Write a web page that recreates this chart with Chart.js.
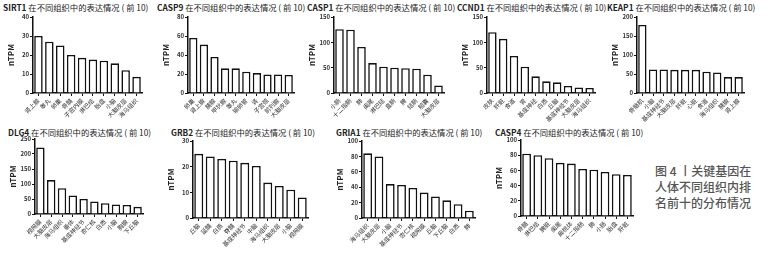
<!DOCTYPE html>
<html lang="zh">
<head>
<meta charset="UTF-8">
<title>关键基因在人体不同组织内排名前十的分布情况</title>
<style>
  body { margin: 0; width: 772px; height: 256px; position: relative; overflow: hidden; background: #fff;
         font-family: "Noto Sans CJK SC", sans-serif; }
  canvas { position: absolute; }
  .title { position: absolute; font-size: 8.3px; color: #222; white-space: nowrap; line-height: 10px; }
  .title b { font-weight: 600; }
  .caption { position: absolute; left: 655px; top: 163px; font-size: 12px; line-height: 16px; color: #555; font-weight: 500; }
</style>
<script src="https://cdn.jsdelivr.net/npm/chart.js"></script>
</head>
<body>
<div class="caption">图 4 丨关键基因在<br>人体不同组织内排<br>名前十的分布情况</div>
<script>
  // Data (nTPM, top 10 tissues for each gene)
  const sirt1Labels = ['肾上腺', '睾丸', '卵巢', '骨髓', '子宫内膜', '淋巴结', '胎盘', '小脑', '大脑皮层', '海马组织'];
  const sirt1Values = [30, 27, 25, 20, 18.5, 17.6, 17, 15.6, 12, 8.5];

  const casp9Labels = ['卵巢', '肾上腺', '胰腺', '甲状腺', '睾丸', '输卵管', '肾', '子宫颈', '前列腺', '大脑皮层'];
  const casp9Values = [58, 51, 38, 26, 26, 22.5, 21, 19.5, 19.5, 19];

  const casp1Labels = ['小肠', '十二指肠', '肺', '阑尾', '淋巴结', '直肠', '脾', '结肠', '胆囊', '大脑皮层'];
  const casp1Values = [126, 125, 91, 59, 52, 50, 49, 48, 36, 15];

  const ccnd1Labels = ['皮肤', '肝脏', '食道', '胃', '基底神经', '白质', '丘脑', '基底神经节', '大脑皮层', '海马组织'];
  const ccnd1Values = [120, 107, 73, 52, 33, 23, 21, 14, 11, 10];

  const keap1Labels = ['骨骼肌', '小脑', '基底神经节', '大脑皮层', '肝脏', '心脏', '食道', '海马组织', '胰腺', '肾上腺'];
  const keap1Values = [179, 62, 62, 61, 61, 61, 56, 54, 42, 42];

  const dlg4Labels = ['视网膜', '大脑皮层', '海马组织', '垂体', '基底神经节', '杏仁核', '白质', '小脑', '胸腺', '下丘脑'];
  const dlg4Values = [222, 113, 86, 62, 50, 42, 36, 32, 30, 24];

  const grb2Labels = ['丘脑', '延髓', '白质', '脊髓', '基底神经节', '中脑', '海马组织', '大脑皮层', '小脑', '视网膜'];
  const grb2Values = [25, 24, 23, 22.3, 21.5, 20.3, 13.8, 12.5, 11, 8];

  const gria1Labels = ['海马组织', '大脑皮层', '小脑', '基底神经节', '杏仁核', '视网膜', '丘脑', '下丘脑', '白质', '肺'];
  const gria1Values = [84, 80, 44, 43, 39, 33, 28, 23, 18, 9.5];

  const casp4Labels = ['骨髓', '淋巴结', '脾脏', '阑尾', '扁桃体', '十二指肠', '肺', '小肠', '胎盘', '肝脏'];
  const casp4Values = [82, 80, 76, 70, 69, 62, 61, 58, 55, 54];

  const FONT = '"Noto Sans CJK SC", sans-serif';

  function panel(o) {
    const yW = 30, xH = 32, padTop = 6, padRight = 4;
    const t = document.createElement('div');
    t.className = 'title';
    t.innerHTML = '<b>' + o.gene + '</b> 在不同组织中的表达情况 ( 前 10)';
    t.style.left = o.titleX + 'px';
    t.style.top = o.titleY + 'px';
    document.body.appendChild(t);

    const c = document.createElement('canvas');
    c.width = o.right - o.axisX + yW + padRight;
    c.height = o.zeroY - o.topY + padTop + xH;
    c.style.left = (o.axisX - yW) + 'px';
    c.style.top = (o.topY - padTop) + 'px';
    document.body.appendChild(c);

    new Chart(c, {
      type: 'bar',
      data: {
        labels: o.labels,
        datasets: [{ data: o.values, backgroundColor: '#fff', borderColor: '#111', borderWidth: 1.6,
                     barPercentage: 0.78, categoryPercentage: 1 }]
      },
      options: {
        responsive: false,
        animation: false,
        layout: { padding: { top: padTop, right: padRight, left: 0, bottom: 0 } },
        plugins: { legend: { display: false }, tooltip: { enabled: false } },
        scales: {
          x: {
            grid: { drawOnChartArea: false, offset: false, tickLength: 3, color: '#111', lineWidth: 1 },
            border: { color: '#111', width: 1.5 },
            ticks: { minRotation: 45, maxRotation: 45, autoSkip: false, padding: 1, color: '#333',
                     font: { size: 6, family: FONT } },
            afterFit: s => { s.height = xH; }
          },
          y: {
            min: 0, max: o.max,
            ticks: { stepSize: o.step, padding: 1, color: '#333', font: { size: 6, weight: 'bold', family: FONT } },
            grid: { drawOnChartArea: false, tickLength: 3, color: '#111', lineWidth: 1 },
            border: { color: '#111', width: 1.5 },
            title: { display: true, text: 'nTPM', color: '#222', padding: { top: 3, bottom: 0 },
                     font: { size: 8, weight: 'bold', family: FONT } },
            afterFit: s => { s.width = yW; }
          }
        }
      }
    });
  }

  panel({ gene: 'SIRT1', labels: sirt1Labels, values: sirt1Values, max: 40, step: 10,
          titleX: 3, titleY: 2, axisX: 33, right: 142, topY: 17, zeroY: 93 });
  panel({ gene: 'CASP9', labels: casp9Labels, values: casp9Values, max: 80, step: 20,
          titleX: 157, titleY: 2, axisX: 188, right: 294, topY: 17, zeroY: 93 });
  panel({ gene: 'CASP1', labels: casp1Labels, values: casp1Values, max: 150, step: 50,
          titleX: 307, titleY: 2, axisX: 334, right: 444, topY: 17, zeroY: 93 });
  panel({ gene: 'CCND1', labels: ccnd1Labels, values: ccnd1Values, max: 150, step: 50,
          titleX: 457, titleY: 2, axisX: 487, right: 595, topY: 17, zeroY: 93 });
  panel({ gene: 'KEAP1', labels: keap1Labels, values: keap1Values, max: 200, step: 50,
          titleX: 607, titleY: 2, axisX: 637, right: 744, topY: 17, zeroY: 93 });

  panel({ gene: 'DLG4', labels: dlg4Labels, values: dlg4Values, max: 250, step: 50,
          titleX: 8, titleY: 127, axisX: 35, right: 143, topY: 139, zeroY: 214 });
  panel({ gene: 'GRB2', labels: grb2Labels, values: grb2Values, max: 30, step: 10,
          titleX: 171, titleY: 127, axisX: 193, right: 308, topY: 141, zeroY: 218 });
  panel({ gene: 'GRIA1', labels: gria1Labels, values: gria1Values, max: 100, step: 20,
          titleX: 336, titleY: 127, axisX: 362, right: 475, topY: 141, zeroY: 218 });
  panel({ gene: 'CASP4', labels: casp4Labels, values: casp4Values, max: 100, step: 20,
          titleX: 495, titleY: 127, axisX: 521, right: 633, topY: 140, zeroY: 216 });
</script>
</body>
</html>
